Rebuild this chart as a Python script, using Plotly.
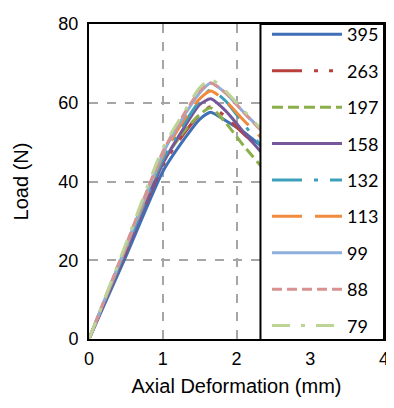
import plotly.graph_objects as go

names = ["395", "263", "197", "158", "132", "113", "99", "88", "79"]
colors = ["#3F6FB5", "#B8413E", "#8BB04B", "#75579A", "#3E9FBA", "#F08A3C", "#8FAEDC", "#D79391", "#BDD496"]
dashes = ["solid", "30px,12px,4px,11px,4px,12px", "11px,5px", "solid", "30px,12px,4px,12px",
          "30px,13px", "solid", "10px,5px", "18px,11px,4px,11px"]

x_pts = [0, 0.5, 1.0, 1.3, 1.5, 1.65, 1.85, 2.1, 2.4]
y_395 = [0, 21.0, 42.5, 51.0, 55.8, 57.6, 55.5, 52.5, 48.0]
y_263 = [0, 22.0, 44.0, 52.5, 57.0, 59.0, 56.5, 52.0, 47.0]
y_197 = [0, 22.5, 45.0, 53.0, 57.0, 58.7, 55.0, 49.0, 42.5]
y_158 = [0, 22.2, 44.5, 54.0, 59.5, 61.0, 58.0, 52.5, 46.0]
y_132 = [0, 22.8, 45.5, 55.0, 60.5, 63.3, 60.5, 54.5, 47.5]
y_113 = [0, 23.2, 46.5, 56.0, 61.0, 63.0, 60.5, 55.5, 50.0]
y_99 = [0, 23.5, 47.0, 57.0, 62.5, 65.0, 62.5, 57.5, 52.0]
y_88 = [0, 23.8, 47.5, 57.5, 63.0, 65.0, 62.5, 57.5, 51.6]
y_79 = [0, 24.2, 48.4, 58.0, 63.8, 66.0, 63.0, 58.0, 52.0]
series = [y_395, y_263, y_197, y_158, y_132, y_113, y_99, y_88, y_79]

x_ticks = [0, 1, 2, 3, 4]
y_ticks = [0, 20, 40, 60, 80]

fig = go.Figure()
for i, (n, ys) in enumerate(zip(names, series)):
    fig.add_trace(go.Scatter(
        x=x_pts, y=ys, name=n, mode="lines", legendgroup=n,
        line=dict(color=colors[i], width=3, dash=dashes[i], shape="spline", smoothing=0.6),
    ))

fig.add_shape(type="rect", xref="x", yref="y", x0=2.325, x1=4, y0=-0.3, y1=80,
              fillcolor="white", line=dict(color="black", width=2), layer="above")

axis_font = dict(family="Liberation Sans, Arial", size=18, color="black")
title_font = dict(family="Liberation Sans, Arial", size=20, color="black")
fig.update_layout(
    width=386, height=392,
    margin=dict(l=81, r=10, t=8, b=61),
    plot_bgcolor="white", paper_bgcolor="white",
    showlegend=True,
    legend=dict(x=1.0, xanchor="right", y=1.025, yanchor="top",
                bgcolor="rgba(0,0,0,0)", borderwidth=0,
                font=dict(family="Lato", size=18, color="black"),
                itemwidth=70, tracegroupgap=10, maxheight=1000),
    xaxis=dict(range=[0, 4], tickvals=x_ticks, showgrid=True, gridcolor="#A6A6A6",
               griddash="dash", gridwidth=1.5, zeroline=False, showline=True, mirror=True,
               linecolor="black", linewidth=2, tickfont=axis_font, automargin=False,
               ticks="outside", ticklen=2, tickcolor="rgba(0,0,0,0)", ticklabeloverflow="allow",
               title=dict(text="Axial Deformation (mm)", font=title_font, standoff=11)),
    yaxis=dict(range=[0, 80], tickvals=y_ticks, showgrid=True, gridcolor="#A6A6A6",
               griddash="dash", gridwidth=1.5, zeroline=False, showline=True, mirror=True,
               linecolor="black", linewidth=2, tickfont=axis_font, automargin=False,
               ticks="outside", ticklen=5, tickcolor="rgba(0,0,0,0)", ticklabeloverflow="allow",
               title=dict(text="Load (N)", font=title_font, standoff=24)),
)

fig.write_html("out.html")
